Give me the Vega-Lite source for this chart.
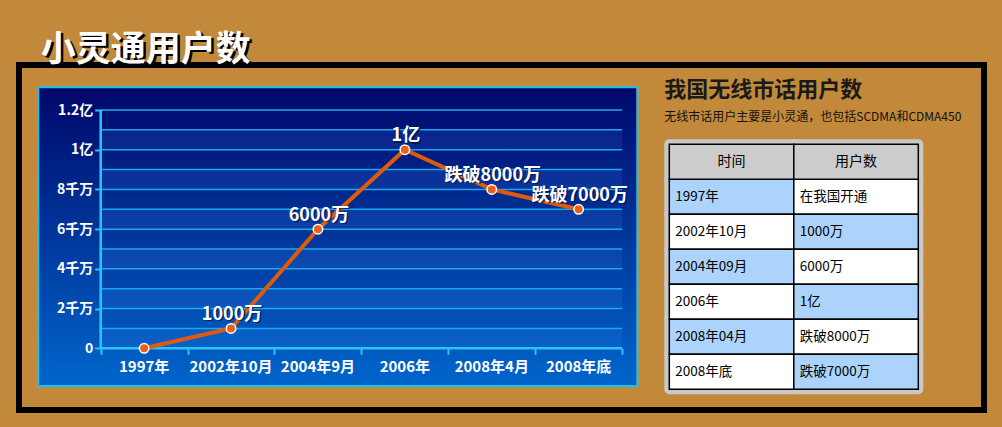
{
  "$schema": "https://vega.github.io/schema/vega-lite/v6.json",
  "width": 965,
  "height": 345,
  "autosize": {"type": "none"},
  "padding": {"left": 19, "top": 65, "right": 18, "bottom": 17},
  "background": "#c2893a",
  "config": {
    "view": {"stroke": "#000000", "strokeWidth": 6},
    "text": {"font": "Noto Sans CJK SC"}
  },
  "resolve": {"scale": {"x": "independent", "y": "independent"}},
  "layer": [
    {
      "data": {
        "values": [
          {"时期": "1997年", "用户数": 0, "标注": ""},
          {"时期": "2002年10月", "用户数": 10000000, "标注": "1000万"},
          {"时期": "2004年9月", "用户数": 60000000, "标注": "6000万"},
          {"时期": "2006年", "用户数": 100000000, "标注": "1亿"},
          {"时期": "2008年4月", "用户数": 80000000, "标注": "跌破8000万"},
          {"时期": "2008年底", "用户数": 70000000, "标注": "跌破7000万"}
        ]
      },
      "transform": [{"window": [{"op": "row_number", "as": "序号"}]}],
      "layer": [
        {
          "data": {"values": [{}]},
          "mark": {
            "type": "rect",
            "fill": {
              "gradient": "linear", "x1": 0, "y1": 0, "x2": 0, "y2": 1,
              "stops": [{"offset": 0, "color": "#00076a"}, {"offset": 1, "color": "#0066cc"}]
            },
            "stroke": "#1ec0f0",
            "strokeWidth": 2
          },
          "encoding": {
            "x": {
              "datum": -0.218067, "type": "quantitative",
              "scale": {"domain": [-0.440161, 10.664557], "zero": false, "nice": false},
              "axis": {
                "title": null, "offset": -61.7, "domain": false, "grid": false, "labels": false, "zindex": 1,
                "values": [0.5, 1.5, 2.5, 3.5, 4.5, 5.5, 6.5],
                "tickColor": "#2ac4f8", "tickWidth": 2, "tickSize": 6
              }
            },
            "x2": {"datum": 6.674914},
            "y": {
              "datum": 131430987, "type": "quantitative",
              "scale": {"domain": [-31070084, 142660531], "zero": false, "nice": false},
              "axis": {
                "title": null, "offset": -81.7, "domain": false, "grid": false, "zindex": 1,
                "values": [0, 20000000, 40000000, 60000000, 80000000, 100000000, 120000000],
                "tickColor": "#2ac4f8", "tickWidth": 2, "tickSize": 6,
                "labelColor": "#ffffff", "labelFont": "Noto Sans CJK SC", "labelFontWeight": "bold",
                "labelFontSize": 14, "labelPadding": 2,
                "labelExpr": "datum.value == 0 ? '0' : datum.value >= 100000000 ? (datum.value / 100000000) + '亿' : (datum.value / 10000000) + '千万'"
              }
            },
            "y2": {"datum": -18984476}
          }
        },
        {
          "data": {
            "values": [
              {"下限": 0, "上限": 10000000},
              {"下限": 20000000, "上限": 30000000},
              {"下限": 40000000, "上限": 50000000},
              {"下限": 60000000, "上限": 70000000},
              {"下限": 80000000, "上限": 90000000},
              {"下限": 100000000, "上限": 110000000}
            ]
          },
          "mark": {"type": "rect", "fill": "#4a8cff", "opacity": 0.14},
          "encoding": {
            "x": {"datum": 0.5, "type": "quantitative"},
            "x2": {"datum": 6.5},
            "y": {"field": "下限", "type": "quantitative"},
            "y2": {"field": "上限"}
          }
        },
        {
          "data": {
            "values": [
              {"刻度": 0}, {"刻度": 10000000}, {"刻度": 20000000}, {"刻度": 30000000},
              {"刻度": 40000000}, {"刻度": 50000000}, {"刻度": 60000000}, {"刻度": 70000000},
              {"刻度": 80000000}, {"刻度": 90000000}, {"刻度": 100000000}, {"刻度": 110000000},
              {"刻度": 120000000}
            ]
          },
          "mark": {"type": "rule", "stroke": "#1aa8ee", "strokeWidth": 1.5},
          "encoding": {
            "x": {"datum": 0.5, "type": "quantitative"},
            "x2": {"datum": 6.5},
            "y": {"field": "刻度", "type": "quantitative"}
          }
        },
        {
          "data": {"values": [{}]},
          "mark": {"type": "rule", "stroke": "#2ac4f8", "strokeWidth": 2.5},
          "encoding": {
            "x": {"datum": 0.5, "type": "quantitative"},
            "y": {"datum": 0, "type": "quantitative"},
            "y2": {"datum": 120000000}
          }
        },
        {
          "data": {"values": [{}]},
          "mark": {"type": "rule", "stroke": "#2ac4f8", "strokeWidth": 2.5},
          "encoding": {
            "x": {"datum": 0.5, "type": "quantitative"},
            "x2": {"datum": 6.5},
            "y": {"datum": 0, "type": "quantitative"}
          }
        },
        {
          "mark": {"type": "line", "stroke": "#e05a0c", "strokeWidth": 4},
          "encoding": {
            "x": {"field": "序号", "type": "quantitative"},
            "y": {"field": "用户数", "type": "quantitative"}
          }
        },
        {
          "mark": {"type": "point", "filled": true, "fill": "#e8601a", "stroke": "#ffffff", "strokeWidth": 1.5, "size": 90, "opacity": 1},
          "encoding": {
            "x": {"field": "序号", "type": "quantitative"},
            "y": {"field": "用户数", "type": "quantitative"}
          }
        },
        {
          "mark": {"type": "text", "fill": "#05124a", "opacity": 0.75, "fontSize": 18, "fontWeight": "bold", "baseline": "alphabetic", "dx": 2.5, "dy": -7},
          "encoding": {
            "x": {"field": "序号", "type": "quantitative"},
            "y": {"field": "用户数", "type": "quantitative"},
            "text": {"field": "标注"}
          }
        },
        {
          "mark": {"type": "text", "fill": "#ffffff", "fontSize": 18, "fontWeight": "bold", "baseline": "alphabetic", "dx": 1, "dy": -8.5},
          "encoding": {
            "x": {"field": "序号", "type": "quantitative"},
            "y": {"field": "用户数", "type": "quantitative"},
            "text": {"field": "标注"}
          }
        },
        {
          "mark": {"type": "text", "fill": "#ffffff", "fontSize": 15, "fontWeight": "bold", "baseline": "alphabetic", "dy": 23.5},
          "encoding": {
            "x": {"field": "序号", "type": "quantitative"},
            "y": {"datum": 0, "type": "quantitative"},
            "text": {"field": "时期"}
          }
        },
        {
          "data": {"values": [{}]},
          "mark": {"type": "text", "text": "小灵通用户数", "fill": "#000000", "fontSize": 35, "fontWeight": "bold", "align": "left", "baseline": "alphabetic", "dx": 5, "dy": -24},
          "encoding": {
            "x": {"datum": -0.218067, "type": "quantitative"},
            "y": {"datum": 131430987, "type": "quantitative"}
          }
        },
        {
          "data": {"values": [{}]},
          "mark": {"type": "text", "text": "小灵通用户数", "fill": "#ffffff", "fontSize": 35, "fontWeight": "bold", "align": "left", "baseline": "alphabetic", "dx": 2.5, "dy": -26.7},
          "encoding": {
            "x": {"datum": -0.218067, "type": "quantitative"},
            "y": {"datum": 131430987, "type": "quantitative"}
          }
        }
      ]
    },
    {
      "data": {
        "values": [
          {"时间": "1997年", "用户数": "在我国开通"},
          {"时间": "2002年10月", "用户数": "1000万"},
          {"时间": "2004年09月", "用户数": "6000万"},
          {"时间": "2006年", "用户数": "1亿"},
          {"时间": "2008年04月", "用户数": "跌破8000万"},
          {"时间": "2008年底", "用户数": "跌破7000万"}
        ]
      },
      "transform": [
        {"window": [{"op": "row_number", "as": "行"}]},
        {"fold": ["时间", "用户数"], "as": ["列", "内容"]}
      ],
      "layer": [
        {
          "mark": {"type": "rect", "fill": "#c8c8c8", "stroke": "#c8c8c8", "strokeWidth": 10, "strokeJoin": "round"},
          "encoding": {
            "x": {
              "field": "列", "type": "nominal", "axis": null,
              "scale": {"type": "band", "domain": ["时间", "用户数"], "paddingInner": 0, "paddingOuter": 0, "range": [650.3, 899.3]}
            },
            "y": {
              "field": "行", "type": "ordinal", "axis": null,
              "scale": {"type": "band", "domain": [0, 1, 2, 3, 4, 5, 6], "paddingInner": 0, "paddingOuter": 0, "range": [79.3, 324.3]}
            }
          }
        },
        {
          "transform": [{"filter": "datum['行'] == 1"}],
          "mark": {"type": "rect", "fill": "#c8c8c8", "stroke": "#c8c8c8", "strokeWidth": 10, "strokeJoin": "round"},
          "encoding": {
            "x": {"field": "列", "type": "nominal", "axis": null},
            "y": {"datum": 0, "type": "ordinal", "axis": null}
          }
        },
        {
          "mark": {"type": "rect", "stroke": "#000000", "strokeWidth": 1.5},
          "encoding": {
            "x": {"field": "列", "type": "nominal", "axis": null},
            "y": {"field": "行", "type": "ordinal", "axis": null},
            "fill": {
              "condition": {"test": "(datum['行'] % 2 == 1) == (datum['列'] == '时间')", "value": "#abd3fb"},
              "value": "#ffffff"
            }
          }
        },
        {
          "transform": [{"filter": "datum['行'] == 1"}],
          "mark": {"type": "rect", "fill": "#cccccc", "stroke": "#000000", "strokeWidth": 1.5},
          "encoding": {
            "x": {"field": "列", "type": "nominal", "axis": null},
            "y": {"datum": 0, "type": "ordinal", "axis": null}
          }
        },
        {
          "mark": {"type": "text", "fill": "#000000", "fontSize": 13.5, "align": "left", "baseline": "middle", "dx": 6},
          "encoding": {
            "x": {"field": "列", "type": "nominal", "axis": null, "bandPosition": 0},
            "y": {"field": "行", "type": "ordinal", "axis": null},
            "text": {"field": "内容"}
          }
        },
        {
          "transform": [{"filter": "datum['行'] == 1"}],
          "mark": {"type": "text", "fill": "#000000", "fontSize": 14, "align": "center", "baseline": "middle"},
          "encoding": {
            "x": {"field": "列", "type": "nominal", "axis": null},
            "y": {"datum": 0, "type": "ordinal", "axis": null},
            "text": {"field": "列"}
          }
        },
        {
          "transform": [{"filter": "datum['行'] == 1 && datum['列'] == '时间'"}],
          "mark": {"type": "text", "text": "我国无线市话用户数", "fill": "#1a1a1a", "fontSize": 22, "fontWeight": "bold", "align": "left", "baseline": "alphabetic", "dx": -5, "dy": -65},
          "encoding": {
            "x": {"field": "列", "type": "nominal", "axis": null, "bandPosition": 0},
            "y": {"datum": 0, "type": "ordinal", "axis": null}
          }
        },
        {
          "transform": [{"filter": "datum['行'] == 1 && datum['列'] == '时间'"}],
          "mark": {"type": "text", "text": "无线市话用户主要是小灵通，也包括SCDMA和CDMA450", "fill": "#111111", "fontSize": 12, "align": "left", "baseline": "alphabetic", "dx": -5, "dy": -41},
          "encoding": {
            "x": {"field": "列", "type": "nominal", "axis": null, "bandPosition": 0},
            "y": {"datum": 0, "type": "ordinal", "axis": null}
          }
        }
      ]
    }
  ]
}
